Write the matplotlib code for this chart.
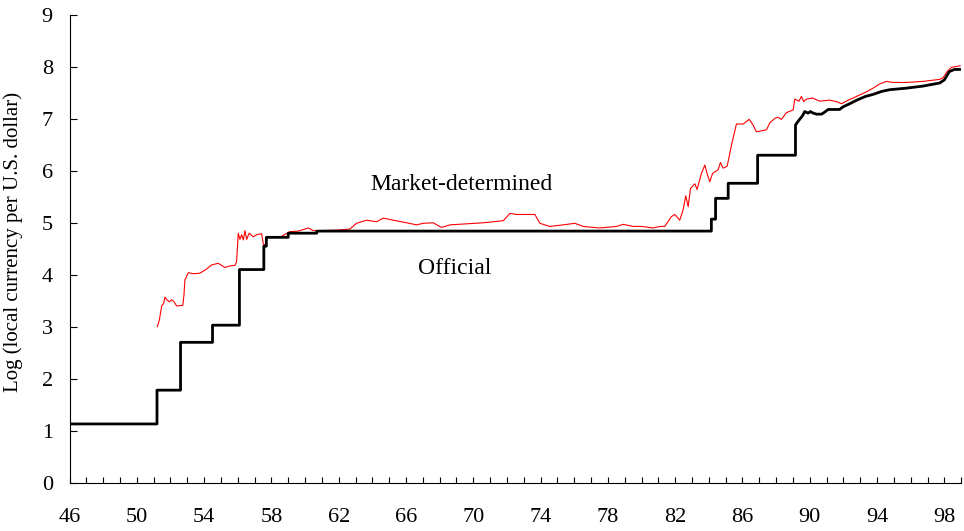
import matplotlib
matplotlib.use("Agg")
import matplotlib.pyplot as plt

plt.rcParams['font.family'] = ['Liberation Serif', 'DejaVu Serif']

# Official exchange rate (log), year (19xx) and value
official_years = [46.0, 51.2, 51.2, 52.6, 52.6, 54.5, 54.5, 56.1, 56.1, 57.55, 57.55, 57.7, 57.7,
                  59.0, 59.0, 60.7, 60.7, 84.15, 84.15, 84.4, 84.4, 85.15, 85.15, 86.9, 86.9,
                  89.15, 89.15, 89.3, 89.57, 89.7, 89.9, 90.04, 90.2, 90.4, 90.7, 90.89, 91.09,
                  91.77, 91.97, 92.37, 92.8, 93.3, 93.76, 94.3, 94.75, 95.74, 96.73, 97.73,
                  98.0, 98.3, 98.6, 99.0]
official_vals = [1.13, 1.13, 1.78, 1.78, 2.70, 2.70, 3.03, 3.03, 4.10, 4.10, 4.55, 4.55, 4.72,
                 4.72, 4.80, 4.80, 4.84, 4.84, 5.07, 5.07, 5.47, 5.47, 5.76, 5.76, 6.30,
                 6.30, 6.88, 6.95, 7.06, 7.14, 7.11, 7.14, 7.11, 7.09, 7.09, 7.13, 7.18,
                 7.18, 7.23, 7.29, 7.36, 7.43, 7.47, 7.53, 7.56, 7.59, 7.63, 7.69,
                 7.75, 7.91, 7.95, 7.95]

# Market-determined exchange rate (log)
market_years = [51.22, 51.34, 51.48, 51.60, 51.67, 51.78, 51.93, 52.07, 52.21, 52.37, 52.73, 52.80,
                52.86, 53.06, 53.36, 53.75, 54.15, 54.45, 54.84, 55.24, 55.54, 55.83, 55.93,
                56.03, 56.13, 56.23, 56.33, 56.43, 56.53, 56.68, 56.92, 57.12, 57.42, 57.52,
                57.66, 57.72, 57.80, 58.5, 59.1, 59.6, 60.19, 60.49, 61.0, 62.0, 62.67, 63.06,
                63.66, 64.25, 64.65, 65.24, 66.04, 66.63, 67.02, 67.62, 68.11, 68.61, 69.6,
                70.59, 71.78, 72.18, 72.57, 73.17, 73.66, 73.96, 74.55, 75.34, 76.04, 76.53,
                77.52, 78.51, 78.91, 79.5, 80.0, 80.69, 81.09, 81.38, 81.78, 81.98, 82.27,
                82.47, 82.63, 82.77, 82.91, 83.17, 83.30, 83.56, 83.76, 83.92, 84.06, 84.22,
                84.55, 84.69, 84.85, 85.09, 85.35, 85.64, 86.04, 86.40, 86.63, 86.83, 87.13,
                87.43, 87.62, 87.92, 88.11, 88.32, 88.61, 89.01, 89.11, 89.36, 89.5, 89.64,
                89.80, 90.16, 90.59, 91.19, 91.59, 91.89, 92.28, 92.57, 92.97, 93.37, 93.76,
                94.15, 94.55, 94.95, 95.74, 96.73, 97.73, 97.92, 98.16, 98.42, 98.94]
market_vals = [3.00, 3.13, 3.40, 3.45, 3.57, 3.52, 3.48, 3.52, 3.48, 3.40, 3.41, 3.60,
               3.90, 4.04, 4.02, 4.03, 4.11, 4.19, 4.22, 4.14, 4.17, 4.18, 4.25,
               4.80, 4.68, 4.77, 4.67, 4.85, 4.68, 4.80, 4.73, 4.77, 4.79, 4.59,
               4.57, 4.68, 4.72, 4.72, 4.83, 4.84, 4.90, 4.85, 4.85, 4.86, 4.88, 4.99,
               5.05, 5.02, 5.09, 5.05, 5.00, 4.96, 4.99, 5.00, 4.91, 4.96, 4.98,
               5.00, 5.04, 5.18, 5.16, 5.16, 5.16, 4.99, 4.93, 4.96, 4.99, 4.93,
               4.90, 4.93, 4.97, 4.93, 4.93, 4.90, 4.93, 4.93, 5.12, 5.16, 5.05,
               5.25, 5.52, 5.31, 5.66, 5.75, 5.64, 5.95, 6.11, 5.92, 5.79, 5.95,
               6.02, 6.16, 6.05, 6.09, 6.50, 6.90, 6.90, 6.99, 6.88, 6.75, 6.77,
               6.79, 6.92, 7.01, 7.03, 6.99, 7.12, 7.17, 7.38, 7.34, 7.43, 7.33,
               7.38, 7.40, 7.34, 7.36, 7.33, 7.29, 7.36, 7.40, 7.46, 7.52, 7.59,
               7.67, 7.72, 7.70, 7.70, 7.72, 7.76, 7.79, 7.91, 7.99, 8.02]

x_tick_labels = ['46', '50', '54', '58', '62', '66', '70', '74', '78', '82', '86', '90', '94', '98']

fig = plt.figure(figsize=(9.64, 5.31), dpi=100)
ax = fig.add_axes([0.0721, 0.091, 0.925, 0.881])

ax.plot(market_years, market_vals, color='#ff0000', lw=0.8, zorder=2)
ax.plot(official_years, official_vals, color='black', lw=2.0, zorder=3)

ax.set_xlim(46, 99)
ax.set_ylim(0, 9)

ax.set_xticks([int(t) for t in x_tick_labels])
ax.set_xticklabels(x_tick_labels)
ax.set_xticks(list(range(46, 100)), minor=True)
ax.set_yticks(range(0, 10))

ax.tick_params(axis='x', which='both', direction='in', length=4.5, width=0.8,
               labelsize=16, pad=18)
ax.tick_params(axis='y', which='both', direction='in', length=5, width=0.8,
               labelsize=16, pad=12)

for s in ['top', 'right']:
    ax.spines[s].set_visible(False)
for s in ['left', 'bottom']:
    ax.spines[s].set_linewidth(0.8)

ax.set_ylabel('Log (local currency per U.S. dollar)', fontsize=15)
ax.yaxis.set_label_coords(-0.052, 0.514)

ax.text(69.3, 5.73, 'Market-determined', fontsize=17, ha='center', va='center')
ax.text(68.9, 4.13, 'Official', fontsize=17, ha='center', va='center')

fig.savefig('out.png', dpi=100)
